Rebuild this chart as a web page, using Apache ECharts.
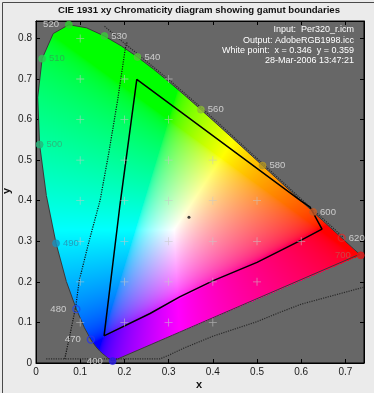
<!DOCTYPE html>
<html><head><meta charset="utf-8">
<script src="https://cdn.jsdelivr.net/npm/echarts@6/dist/echarts.min.js"></script>
<style>html,body{margin:0;padding:0;background:#ebebeb}#c{width:374px;height:393px}</style>
</head><body><div id="c"></div>
<script>
// CIE 1931 2-degree spectral locus, 380..700 nm step 5
const locusWl = [380,385,390,395,400,405,410,415,420,425,430,435,440,445,450,455,460,465,470,475,480,485,490,495,500,505,510,515,520,525,530,535,540,545,550,555,560,565,570,575,580,585,590,595,600,605,610,615,620,625,630,635,640,645,650,655,660,665,670,675,680,685,690,695,700];
const locusX = [0.1741,0.1740,0.1738,0.1736,0.1733,0.1730,0.1726,0.1721,0.1714,0.1703,0.1689,0.1669,0.1644,0.1611,0.1566,0.1510,0.1440,0.1355,0.1241,0.1096,0.0913,0.0687,0.0454,0.0235,0.0082,0.0039,0.0139,0.0389,0.0743,0.1142,0.1547,0.1929,0.2296,0.2658,0.3016,0.3373,0.3731,0.4087,0.4441,0.4788,0.5125,0.5448,0.5752,0.6029,0.6270,0.6482,0.6658,0.6801,0.6915,0.7006,0.7079,0.7140,0.7190,0.7230,0.7260,0.7283,0.7300,0.7311,0.7320,0.7327,0.7334,0.7340,0.7344,0.7346,0.7347];
const locusY = [0.0050,0.0050,0.0049,0.0049,0.0048,0.0048,0.0048,0.0048,0.0051,0.0058,0.0069,0.0086,0.0109,0.0138,0.0177,0.0227,0.0297,0.0399,0.0578,0.0868,0.1327,0.2007,0.2950,0.4127,0.5384,0.6548,0.7502,0.8120,0.8338,0.8262,0.8059,0.7816,0.7543,0.7243,0.6923,0.6589,0.6245,0.5896,0.5547,0.5202,0.4866,0.4544,0.4242,0.3965,0.3725,0.3514,0.3340,0.3197,0.3083,0.2993,0.2920,0.2859,0.2809,0.2770,0.2740,0.2717,0.2700,0.2689,0.2680,0.2673,0.2666,0.2660,0.2656,0.2654,0.2653];

// labelled wavelengths
const markWl = [400,470,480,490,500,510,520,530,540,560,580,600,620,700];

// output gamut (AdobeRGB1998.icc) boundary
const outX = [0.154,0.190,0.228,0.600,0.620,0.647,0.600,0.500,0.401,0.325,0.258,0.154];
const outY = [0.067,0.390,0.699,0.399,0.384,0.330,0.303,0.248,0.203,0.163,0.122,0.067];

// input gamut (Per320_r.icm) dotted boundary pieces
const inBottomX = [0.023,0.150,0.280,0.300,0.333,0.400,0.500,0.552,0.600,0.742];
const inBottomY = [0.010,0.010,0.010,0.019,0.036,0.066,0.102,0.125,0.145,0.187];
const inLeftX = [0.065,0.077,0.090,0.098,0.120,0.145,0.165,0.185,0.202,0.206];
const inLeftY = [0.010,0.070,0.140,0.204,0.300,0.401,0.520,0.650,0.775,0.790];
const inTopX = [0.155,0.190,0.225,0.266,0.302,0.338,0.374,0.410,0.445,0.480,0.513,0.546,0.576,0.604,0.628,0.650,0.668,0.682,0.694];
const inTopY = [0.830,0.797,0.766,0.729,0.697,0.663,0.629,0.594,0.559,0.524,0.491,0.458,0.428,0.400,0.376,0.355,0.337,0.323,0.311];

// grid crosses
const plusX = [0.1, 0.1,0.2,0.3, 0.1,0.2,0.3, 0.1,0.2,0.3,0.4, 0.1,0.2,0.3,0.4,0.5, 0.1,0.2,0.3,0.4,0.5,0.6, 0.1,0.2,0.3,0.4,0.5, 0.1,0.2,0.3,0.4];
const plusY = [0.8, 0.7,0.7,0.7, 0.6,0.6,0.6, 0.5,0.5,0.5,0.5, 0.4,0.4,0.4,0.4,0.4, 0.3,0.3,0.3,0.3,0.3,0.3, 0.2,0.2,0.2,0.2,0.2, 0.1,0.1,0.1,0.1];

const whitePoint = [0.346, 0.359];
const X_MIN = 0, X_MAX = 0.742, Y_MIN = 0, Y_MAX = 0.843;

const titleText = 'CIE 1931 xy Chromaticity diagram showing gamut boundaries';
const infoLines = ['Input:  Per320_r.icm','Output: AdobeRGB1998.icc','White point:  x = 0.346  y = 0.359','28-Mar-2006 13:47:21'];

// marker styles (not data)
const markStyle = {
  400:{c:'#2a1de8',hollow:false,pos:'left',tc:'#e4e4e4',dy:-3},
  470:{c:'#2435ee',hollow:true,pos:'left',tc:'#e4e4e4'},
  480:{c:'#2247e8',hollow:true,pos:'left',tc:'#e4e4e4'},
  490:{c:'#1c8fba',hollow:false,pos:'right',tc:'#2a88ad'},
  500:{c:'#27b57c',hollow:false,pos:'right',tc:'#35a875'},
  510:{c:'#33c455',hollow:false,pos:'right',tc:'#2fa550'},
  520:{c:'#33cc33',hollow:false,pos:'left',tc:'#e4e4e4'},
  530:{c:'#3acb3a',hollow:false,pos:'right',tc:'#e4e4e4'},
  540:{c:'#55c63a',hollow:false,pos:'right',tc:'#e4e4e4'},
  560:{c:'#8cbb34',hollow:false,pos:'right',tc:'#e4e4e4'},
  580:{c:'#b39522',hollow:false,pos:'right',tc:'#e4e4e4'},
  600:{c:'#c45a26',hollow:false,pos:'right',tc:'#e4e4e4'},
  620:{c:'#e02a2a',hollow:true,pos:'right',tc:'#e4e4e4'},
  700:{c:'#e01818',hollow:false,pos:'left',tc:'#c45050'}
};

const FONT = '"Liberation Sans", Arial, sans-serif';
const zip = (a,b)=>a.map((v,i)=>[v,b[i]]);

function inside(px, py){
  let c = false;
  for (let i=0, j=locusX.length-1; i<locusX.length; j=i++){
    const xi=locusX[i], yi=locusY[i], xj=locusX[j], yj=locusY[j];
    if (((yi>py)!==(yj>py)) && (px < (xj-xi)*(py-yi)/(yj-yi)+xi)) c=!c;
  }
  return c;
}
function gam(c){ c=Math.max(0,Math.min(1,c)); return c<=0.0031308?12.92*c:1.055*Math.pow(c,1/2.4)-0.055; }
function xyColor(x,y){
  const X=x/y, Y=1, Z=(1-x-y)/y;
  let r= 3.2406*X-1.5372*Y-0.4986*Z;
  let g=-0.9689*X+1.8758*Y+0.0415*Z;
  let b= 0.0557*X-0.2040*Y+1.0570*Z;
  r=Math.max(r,0); g=Math.max(g,0); b=Math.max(b,0);
  const m=Math.max(r,g,b)||1;
  return [gam(r/m)*255, gam(g/m)*255, gam(b/m)*255];
}
let fillCache=null;
function renderFill(params, api){
  const p0 = api.coord([X_MIN,Y_MIN]), p1 = api.coord([X_MAX,Y_MAX]);
  const left=Math.round(Math.min(p0[0],p1[0])), top=Math.round(Math.min(p0[1],p1[1]));
  const w=Math.round(Math.abs(p1[0]-p0[0])), h=Math.round(Math.abs(p1[1]-p0[1]));
  const key=left+','+top+','+w+','+h;
  if(!fillCache || fillCache.key!==key){
    const cv=document.createElement('canvas'); cv.width=w; cv.height=h;
    const ctx=cv.getContext('2d'); const img=ctx.createImageData(w,h);
    const sx=(X_MAX-X_MIN)/(p1[0]-p0[0]), sy=(Y_MAX-Y_MIN)/(p1[1]-p0[1]);
    for(let j=0;j<h;j++){
      const y=Y_MIN+(top+j+0.5-p0[1])*sy;
      for(let i=0;i<w;i++){
        const x=X_MIN+(left+i+0.5-p0[0])*sx;
        if(y>0.0005 && inside(x,y)){
          const c=xyColor(x,y); const k=(j*w+i)*4;
          img.data[k]=c[0]; img.data[k+1]=c[1]; img.data[k+2]=c[2]; img.data[k+3]=255;
        }
      }
    }
    ctx.putImageData(img,0,0);
    fillCache={key,cv};
  }
  return {type:'image', silent:true, style:{image:fillCache.cv, x:left, y:top, width:w, height:h}};
}

const tickFmt = v => { const r=Math.round(v*10); if(Math.abs(v*10-r)>1e-6) return ''; return r===0?'0':(r/10).toFixed(1); };

const markData = markWl.map(wl=>{
  const i=locusWl.indexOf(wl); const s=markStyle[wl];
  return {
    value:[locusX[i],locusY[i]], name:String(wl),
    itemStyle:{color:s.hollow?'rgba(0,0,0,0)':s.c, borderColor:s.c, borderWidth:s.hollow?1.3:0.8},
    label:{position:s.pos, color:s.tc, offset:[0,s.dy||0], distance:s.pos==='left'?6:3}
  };
});

const axisCommon = {
  type:'value', splitLine:{show:false},
  axisLine:{show:true,onZero:false,lineStyle:{color:'#000',width:1}},
  axisTick:{show:true,inside:true,length:4,lineStyle:{color:'#000'}}
};

const chart = echarts.init(document.getElementById('c'), null, {renderer:'canvas'});
chart.setOption({
  animation:false,
  backgroundColor:'#ebebeb',
  grid:{left:36,right:10,top:21,bottom:30,show:true,backgroundColor:'#676767',borderColor:'#000',borderWidth:1},
  xAxis:[
    Object.assign({},axisCommon,{min:X_MIN,max:X_MAX,interval:0.1,position:'bottom',
      axisLabel:{formatter:tickFmt,fontSize:10,color:'#1a1a1a',margin:4,fontFamily:FONT,showMaxLabel:false}}),
    Object.assign({},axisCommon,{min:X_MIN,max:X_MAX,interval:0.1,position:'top',axisLabel:{show:false}})
  ],
  yAxis:[
    Object.assign({},axisCommon,{min:Y_MIN,max:Y_MAX,interval:0.1,position:'left',
      axisLabel:{formatter:tickFmt,fontSize:10,color:'#1a1a1a',margin:4,fontFamily:FONT,showMaxLabel:false}}),
    Object.assign({},axisCommon,{min:Y_MIN,max:Y_MAX,interval:0.1,position:'right',axisLabel:{show:false}})
  ],
  series:[
    {type:'custom',renderItem:renderFill,data:[[0,0]],z:1,silent:true,clip:true},
    {type:'line',data:zip(locusX.concat([locusX[0]]),locusY.concat([locusY[0]])),showSymbol:false,symbol:'none',
      lineStyle:{color:'#3a3a3a',width:1},z:2,silent:true},
    {type:'line',data:zip(inBottomX,inBottomY),symbol:'none',lineStyle:{color:'#2a2a2a',width:1.2,type:'dotted'},z:3,silent:true},
    {type:'line',data:zip(inLeftX,inLeftY),symbol:'none',lineStyle:{color:'#111',width:1.2,type:'dotted'},z:3,silent:true},
    {type:'line',data:zip(inTopX,inTopY),symbol:'none',lineStyle:{color:'#2a2a2a',width:1.2,type:'dotted'},z:3,silent:true},
    {type:'line',data:zip(outX,outY),symbol:'none',lineStyle:{color:'#000',width:1.5},z:4,silent:true},
    {type:'scatter',data:zip(plusX,plusY),symbol:'path://M9,0H11V9H20V11H11V20H9V11H0V9H9Z',symbolSize:8,
      itemStyle:{color:'rgba(200,200,200,0.85)'},z:5,silent:true},
    {type:'scatter',data:[whitePoint],symbol:'circle',symbolSize:3,itemStyle:{color:'#111'},z:6,silent:true},
    {type:'scatter',data:markData,symbol:'circle',symbolSize:7,z:7,silent:true,
      labelLayout:{hideOverlap:false},
      label:{show:true,formatter:'{b}',fontSize:9.5,fontFamily:FONT}}
  ],
  graphic:[
    {type:'rect',left:0,top:0,shape:{x:0,y:0,width:373,height:392},style:{fill:'none',stroke:'#4a4a4a',lineWidth:1},z:100,silent:true},
    {type:'text',x:199,y:10,style:{text:titleText,font:'bold 9.6px '+FONT,fill:'#111',textAlign:'center',textVerticalAlign:'middle'},z:100},
    ...infoLines.map((t,i)=>({type:'text',x:354,y:30+i*10.3,style:{text:t,font:'9px '+FONT,fill:'#ffffff',textAlign:'right',textVerticalAlign:'middle'},z:100})),
    {type:'text',x:199,y:385,style:{text:'x',font:'bold 11px '+FONT,fill:'#111',textAlign:'center',textVerticalAlign:'middle'},z:100},
    {type:'text',x:7,y:191,rotation:Math.PI/2,style:{text:'y',font:'bold 11px '+FONT,fill:'#111',textAlign:'center',textVerticalAlign:'middle'},z:100}
  ]
});
</script></body></html>
